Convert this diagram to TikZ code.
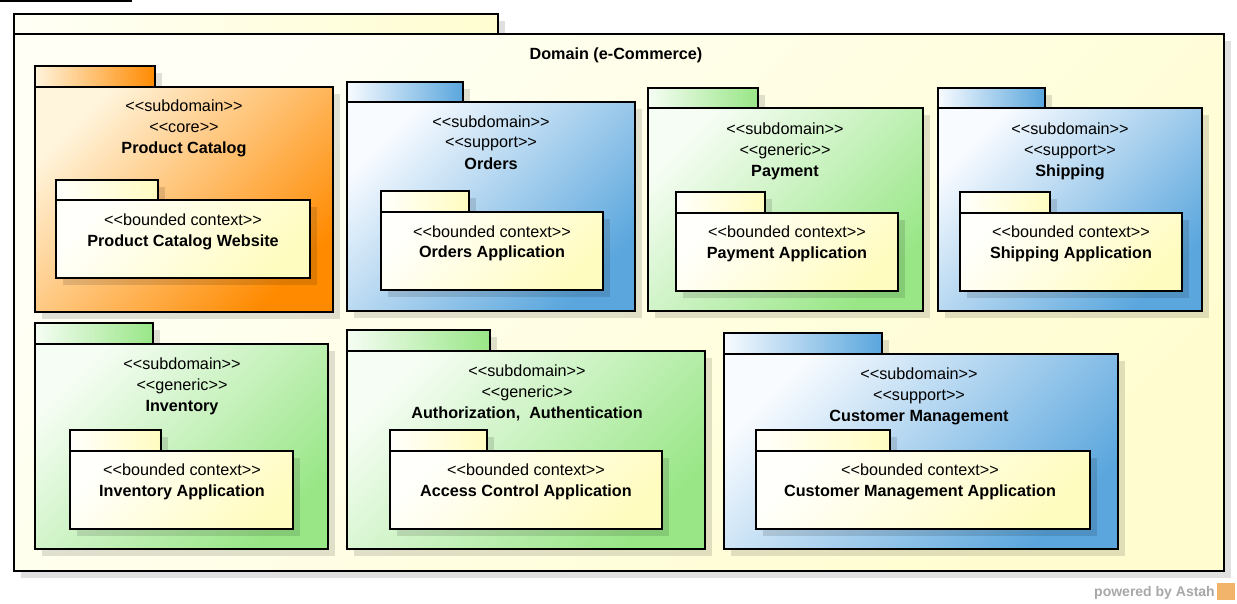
\documentclass[tikz,border=0pt]{standalone}
\usepackage{fontspec}
\setmainfont{Liberation Sans}[Ligatures=TeXOff]
\definecolor{orgD}{HTML}{FF8A00}
\definecolor{orgL}{HTML}{FFF4DC}
\definecolor{bluD}{HTML}{5AA6DD}
\definecolor{bluL}{HTML}{F8FBFF}
\definecolor{grnD}{HTML}{98E686}
\definecolor{grnL}{HTML}{F6FDF4}
\definecolor{ylwD}{HTML}{FFFCC0}
\definecolor{ylwL}{HTML}{FFFFFC}
\definecolor{domL}{HTML}{FFFFF6}
\definecolor{domD}{HTML}{FFFDD0}
\definecolor{wmgray}{HTML}{A8A8A8}
\definecolor{wmorange}{HTML}{F2B36A}
\tikzset{
  pkgline/.style={draw=black, line width=2.8pt, line join=miter},
  shadowbox/.style={fill=black, fill opacity=0.12, draw=none},
  bodyshade/.style 2 args={top color=#1, bottom color=#2, shading angle=45},
  tabshade/.style 2 args={left color=#1, right color=#2},
  stereo/.style={font=\fontsize{16.2}{19}\selectfont, anchor=base, inner sep=0pt},
  pkgtitle/.style={font=\fontsize{16.2}{19}\selectfont\bfseries, anchor=base, inner sep=0pt},
  wmark/.style={font=\fontsize{14}{16}\selectfont\bfseries, text=wmgray, anchor=base east, inner sep=0pt},
}
% #1 x1, #2 tab top, #3 tab right, #4 body top, #5 x2, #6 y2, #7 light, #8 dark
\newcommand\drawpkg[8]{%
  \fill[shadowbox] (#1+7,#2+7) rectangle (#3+7,#4+7);
  \fill[shadowbox] (#1+7,#4+7) rectangle (#5+7,#6+7);
  \draw[pkgline, tabshade={#7}{#8}] (#1,#2) rectangle (#3,#4);
  \draw[pkgline, bodyshade={#7}{#8}] (#1,#4) rectangle (#5,#6);
}
\begin{document}
\begin{tikzpicture}[x=1pt,y=-1pt]
\useasboundingbox (0,0) rectangle (1237,604);
\fill[white] (0,0) rectangle (1237,604);
\draw[line width=1.6pt] (0,0.8) -- (132,0.8);

% Domain
\drawpkg{14}{14}{498}{34}{1224}{571}{domL}{domD}
\node[pkgtitle] (domain) at (616,59.5) {Domain (e-Commerce)};

% Product Catalog
\drawpkg{35}{66}{155}{87}{333}{312}{orgL}{orgD}
\node[stereo] (pc1) at (184,111.5) {<<subdomain>>};
\node[stereo] (pc2) at (184,132.5) {<<core>>};
\node[pkgtitle] (pc3) at (184,153.5) {Product Catalog};
\drawpkg{56}{180}{158}{200}{310}{278}{ylwL}{ylwD}
\node[stereo] (pcw1) at (183,225.5) {<<bounded context>>};
\node[pkgtitle] (pcw2) at (183,246.5) {Product Catalog Website};

% Orders
\drawpkg{347}{82}{463}{102}{635}{311}{bluL}{bluD}
\node[stereo] (or1) at (491,127.5) {<<subdomain>>};
\node[stereo] (or2) at (491,147.5) {<<support>>};
\node[pkgtitle] (or3) at (491,169.5) {Orders};
\drawpkg{381}{191}{469}{212}{603}{290}{ylwL}{ylwD}
\node[stereo] (ora1) at (492,237.5) {<<bounded context>>};
\node[pkgtitle] (ora2) at (492,257.5) {Orders Application};

% Payment
\drawpkg{648}{88}{758}{108}{923}{311}{grnL}{grnD}
\node[stereo] (pa1) at (785,134.5) {<<subdomain>>};
\node[stereo] (pa2) at (785,155.5) {<<generic>>};
\node[pkgtitle] (pa3) at (785,176.5) {Payment};
\drawpkg{676}{192}{765}{213}{898}{291}{ylwL}{ylwD}
\node[stereo] (paa1) at (787,237.5) {<<bounded context>>};
\node[pkgtitle] (paa2) at (787,258.5) {Payment Application};

% Shipping
\drawpkg{938}{88}{1045}{108}{1202}{311}{bluL}{bluD}
\node[stereo] (sh1) at (1070,134.5) {<<subdomain>>};
\node[stereo] (sh2) at (1070,155.5) {<<support>>};
\node[pkgtitle] (sh3) at (1070,176.5) {Shipping};
\drawpkg{960}{192}{1050}{213}{1182}{291}{ylwL}{ylwD}
\node[stereo] (sha1) at (1071,237.5) {<<bounded context>>};
\node[pkgtitle] (sha2) at (1071,258.5) {Shipping Application};

% Inventory
\drawpkg{35}{323}{153}{344}{328}{549}{grnL}{grnD}
\node[stereo] (in1) at (182,369.5) {<<subdomain>>};
\node[stereo] (in2) at (182,390.5) {<<generic>>};
\node[pkgtitle] (in3) at (182,411.5) {Inventory};
\drawpkg{70}{430}{161}{451}{293}{529}{ylwL}{ylwD}
\node[stereo] (ina1) at (182,475.5) {<<bounded context>>};
\node[pkgtitle] (ina2) at (182,496.5) {Inventory Application};

% Authorization, Authentication
\drawpkg{347}{330}{490}{351}{705}{549}{grnL}{grnD}
\node[stereo] (au1) at (527,376.5) {<<subdomain>>};
\node[stereo] (au2) at (527,397.5) {<<generic>>};
\node[pkgtitle] (au3) at (527,418.5) {Authorization,\ \ Authentication};
\drawpkg{390}{430}{487}{451}{662}{529}{ylwL}{ylwD}
\node[stereo] (aua1) at (526,475.5) {<<bounded context>>};
\node[pkgtitle] (aua2) at (526,496.5) {Access Control Application};

% Customer Management
\drawpkg{724}{333}{882}{354}{1118}{549}{bluL}{bluD}
\node[stereo] (cm1) at (919,379.5) {<<subdomain>>};
\node[stereo] (cm2) at (919,400.5) {<<support>>};
\node[pkgtitle] (cm3) at (919,421.5) {Customer Management};
\drawpkg{756}{430}{890}{451}{1090}{529}{ylwL}{ylwD}
\node[stereo] (cma1) at (920,475.5) {<<bounded context>>};
\node[pkgtitle] (cma2) at (920,496.5) {Customer Management Application};

% watermark
\node[wmark] (wm) at (1215,596) {powered by Astah};
\fill[wmorange] (1217,583) rectangle (1235,600);
\end{tikzpicture}
\end{document}
